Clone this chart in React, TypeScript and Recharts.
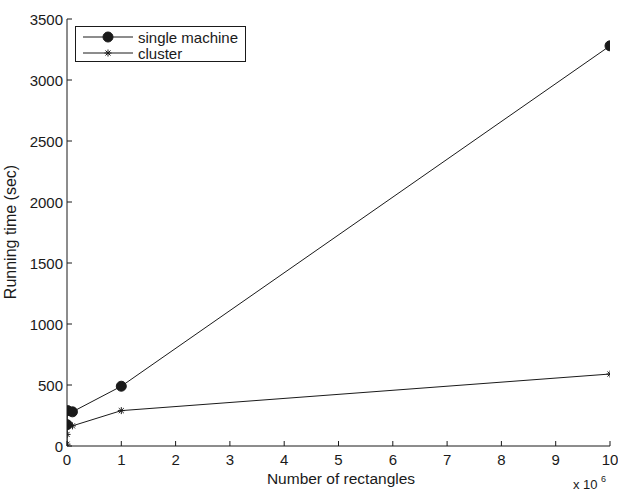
import React from "react";
import { LineChart, Line, XAxis, YAxis } from "recharts";

const singleSizes = [1000, 10000, 100000, 1000000, 10000000];
const singleTimes = [175, 290, 280, 490, 3280];
const clusterSizes = [100, 1000, 10000, 100000, 1000000, 10000000];
const clusterTimes = [15, 95, 175, 165, 290, 590];
const xTicks = [0, 1e6, 2e6, 3e6, 4e6, 5e6, 6e6, 7e6, 8e6, 9e6, 1e7];
const yTicks = [0, 500, 1000, 1500, 2000, 2500, 3000, 3500];
const seriesNames = ["single machine", "cluster"];

const singleData = singleSizes.map((n, i) => ({ n, t: singleTimes[i] }));
const clusterData = clusterSizes.map((n, i) => ({ n, t: clusterTimes[i] }));

const FONT = "'Liberation Sans', Arial, sans-serif";
const INK = "#1a1a1a";

const Dot = (props: any) => {
  const { cx, cy } = props;
  if (cx == null || cy == null) return null;
  return <circle cx={cx} cy={cy} r={5} fill={INK} stroke={INK} />;
};

const Star = (props: any) => {
  const { cx, cy } = props;
  if (cx == null || cy == null) return null;
  const r = 3.5;
  const d = r * 0.72;
  return (
    <g stroke={INK} strokeWidth={1}>
      <line x1={cx - r} y1={cy} x2={cx + r} y2={cy} />
      <line x1={cx} y1={cy - r} x2={cx} y2={cy + r} />
      <line x1={cx - d} y1={cy - d} x2={cx + d} y2={cy + d} />
      <line x1={cx - d} y1={cy + d} x2={cx + d} y2={cy - d} />
    </g>
  );
};

const XTick = (props: any) => {
  const { x, y, payload } = props;
  return (
    <g>
      <line x1={x} y1={y} x2={x} y2={y - 5} stroke={INK} />
      <text x={x} y={y + 19} textAnchor="middle" fontSize={15} fontFamily={FONT} fill={INK}>
        {String(payload.value / 1e6)}
      </text>
    </g>
  );
};

const YTick = (props: any) => {
  const { x, y, payload } = props;
  return (
    <g>
      <line x1={x} y1={y} x2={x + 5} y2={y} stroke={INK} />
      <text x={x - 4} y={y + 5.5} textAnchor="end" fontSize={15} fontFamily={FONT} fill={INK}>
        {String(payload.value)}
      </text>
    </g>
  );
};

const LegendBox = () => (
  <svg width={172} height={37} style={{ position: "absolute", left: 75, top: 26 }}>
    <rect x={0.5} y={0.5} width={170} height={35} fill="#fff" stroke={INK} />
    <line x1={8} y1={11} x2={58} y2={11} stroke={INK} />
    <Dot cx={33} cy={11} />
    <text x={63} y={16.5} fontSize={15} fontFamily={FONT} fill={INK}>{seriesNames[0]}</text>
    <line x1={8} y1={27} x2={58} y2={27} stroke={INK} />
    <Star cx={33} cy={27} />
    <text x={63} y={32.5} fontSize={15} fontFamily={FONT} fill={INK}>{seriesNames[1]}</text>
  </svg>
);

export default function App() {
  return (
    <div style={{ position: "absolute", left: 0, top: 0, width: 618, height: 491, background: "#fff", overflow: "hidden" }}>
      <LineChart width={618} height={491} margin={{ top: 19, right: 8, bottom: 0, left: 7 }}>
        <XAxis
          dataKey="n"
          type="number"
          domain={[0, 1e7]}
          allowDataOverflow={true}
          ticks={xTicks}
          interval={0}
          tick={<XTick />}
          tickLine={false}
          tickSize={0}
          tickMargin={0}
          axisLine={{ stroke: INK }}
          allowDuplicatedCategory={false}
          height={45}
        />
        <YAxis
          dataKey="t"
          type="number"
          domain={[0, 3500]}
          allowDataOverflow={true}
          ticks={yTicks}
          interval={0}
          tick={<YTick />}
          tickLine={false}
          tickSize={0}
          tickMargin={0}
          axisLine={{ stroke: INK }}
          width={60}
        />
        <Line data={singleData} dataKey="t" stroke={INK} strokeWidth={1} dot={<Dot />} isAnimationActive={false} name={seriesNames[0]} />
        <Line data={clusterData} dataKey="t" stroke={INK} strokeWidth={1} dot={<Star />} isAnimationActive={false} name={seriesNames[1]} />
      </LineChart>
      <LegendBox />
      <div style={{ position: "absolute", left: 0, top: 0, width: 618, height: 491, pointerEvents: "none" }}>
        <svg width={618} height={491}>
          <text x={341} y={484} textAnchor="middle" fontSize={15.5} fontFamily={FONT} fill={INK}>Number of rectangles</text>
          <text x={16} y={232} textAnchor="middle" fontSize={16} fontFamily={FONT} fill={INK} transform="rotate(-90 16 232)">Running time (sec)</text>
          <text x={573} y={489} fontSize={13} fontFamily={FONT} fill={INK}>x 10</text>
          <text x={601} y={482} fontSize={9} fontFamily={FONT} fill={INK}>6</text>
        </svg>
      </div>
    </div>
  );
}
